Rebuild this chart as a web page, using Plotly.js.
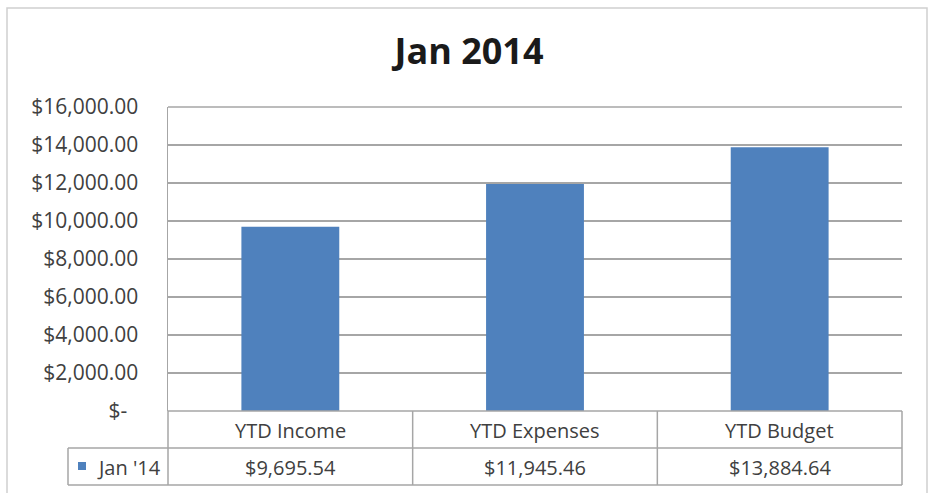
<!DOCTYPE html>
<html>
<head>
<meta charset="utf-8">
<script src="https://cdn.plot.ly/plotly-3.0.1.min.js"></script>
<style>html,body{margin:0;padding:0;background:#fff;}#chart{width:935px;height:493px;}</style>
</head>
<body>
<div id="chart"></div>
<script>
const chartTitle = "Jan 2014";
const seriesName = "Jan '14";
const categories = ["YTD Income", "YTD Expenses", "YTD Budget"];
const values = [9695.54, 11945.46, 13884.64];
const tickValues = [0, 2000, 4000, 6000, 8000, 10000, 12000, 14000, 16000];
const tickLabels = ["$-\u00a0\u00a0", "$2,000.00", "$4,000.00", "$6,000.00", "$8,000.00",
                    "$10,000.00", "$12,000.00", "$14,000.00", "$16,000.00"];

const W = 935, H = 493;
const L = 168, R = 902, T = 107, B = 411;
const pw = R - L, ph = B - T;
const px = v => (v - L) / pw;
const py = v => (B - v) / ph;

const lineCol = '#a6a6a6';
const font = "'Open Sans', sans-serif";
const fmt = v => '$' + v.toLocaleString('en-US', {minimumFractionDigits: 2, maximumFractionDigits: 2});

const n = categories.length;
const shapes = [];
// outer chart border
shapes.push({type:'rect', xref:'paper', yref:'paper', x0:px(7), x1:px(927), y0:py(8), y1:py(500),
  line:{color:'#d0d0d0', width:1.5}, fillcolor:'rgba(0,0,0,0)', layer:'below'});
// top gridline
shapes.push({type:'line', xref:'paper', yref:'paper', x0:0, x1:1, y0:1, y1:1, line:{color:lineCol, width:1.5}});
// table horizontal lines
const rowMid = py(448), rowBot = py(485);
shapes.push({type:'line', xref:'paper', yref:'paper', x0:0, x1:1, y0:0, y1:0, line:{color:lineCol, width:1.5}});
shapes.push({type:'line', xref:'paper', yref:'paper', x0:px(68), x1:1, y0:rowMid, y1:rowMid, line:{color:lineCol, width:1.5}});
shapes.push({type:'line', xref:'paper', yref:'paper', x0:px(68), x1:1, y0:rowBot, y1:rowBot, line:{color:lineCol, width:1.5}});
shapes.push({type:'line', xref:'paper', yref:'paper', x0:px(68), x1:px(68), y0:rowMid, y1:rowBot, line:{color:lineCol, width:1.5}});
for (let i = 0; i <= n; i++) {
  shapes.push({type:'line', xref:'paper', yref:'paper', x0:i/n, x1:i/n, y0:0, y1:rowBot, line:{color:lineCol, width:1.5}});
}
// legend key
shapes.push({type:'rect', xref:'paper', yref:'paper', x0:px(78), x1:px(86), y0:py(462), y1:py(470),
  line:{width:0}, fillcolor:'#4F81BD'});

const annotations = [];
categories.forEach((c, i) => {
  annotations.push({xref:'x', yref:'paper', x:c, y:py(430), text:c, showarrow:false,
    xanchor:'center', yanchor:'middle', font:{family:font, size:20, color:'#404040'}});
  annotations.push({xref:'x', yref:'paper', x:c, y:py(467), text:fmt(values[i]), showarrow:false,
    xanchor:'center', yanchor:'middle', font:{family:font, size:20, color:'#404040'}});
});
annotations.push({xref:'paper', yref:'paper', x:px(95), y:py(467), text:seriesName, showarrow:false,
  xanchor:'left', yanchor:'middle', font:{family:font, size:20, color:'#404040'}});

const trace = {type:'bar', x:categories, y:values, name:seriesName,
  marker:{color:'#4F81BD', line:{width:0}}, hoverinfo:'skip'};

const layout = {
  width:W, height:H,
  margin:{l:L, r:W-R, t:T, b:H-B, pad:0},
  paper_bgcolor:'#fff', plot_bgcolor:'#fff',
  showlegend:false,
  bargap:0.6,
  title:{text:'<b>' + chartTitle + '</b>', x:(469)/W, xanchor:'center', xref:'container',
    y:1 - 51/H, yref:'container', yanchor:'middle',
    font:{family:font, size:36, color:'#1a1a1a'}},
  xaxis:{type:'category', range:[-0.5, n-0.5], showticklabels:false, ticks:'', showgrid:false,
    zeroline:false, showline:false, fixedrange:true},
  yaxis:{range:[0, 16000], tickmode:'array', tickvals:tickValues, ticktext:tickLabels,
    showgrid:true, gridcolor:lineCol, gridwidth:1.5, zeroline:false,
    showline:true, linecolor:lineCol, linewidth:1.5,
    ticks:'outside', ticklen:24, tickcolor:'rgba(0,0,0,0)',
    tickfont:{family:font, size:21, color:'#404040'}, fixedrange:true},
  shapes:shapes,
  annotations:annotations
};

Plotly.newPlot('chart', [trace], layout, {displayModeBar:false, staticPlot:true});
</script>
</body>
</html>
